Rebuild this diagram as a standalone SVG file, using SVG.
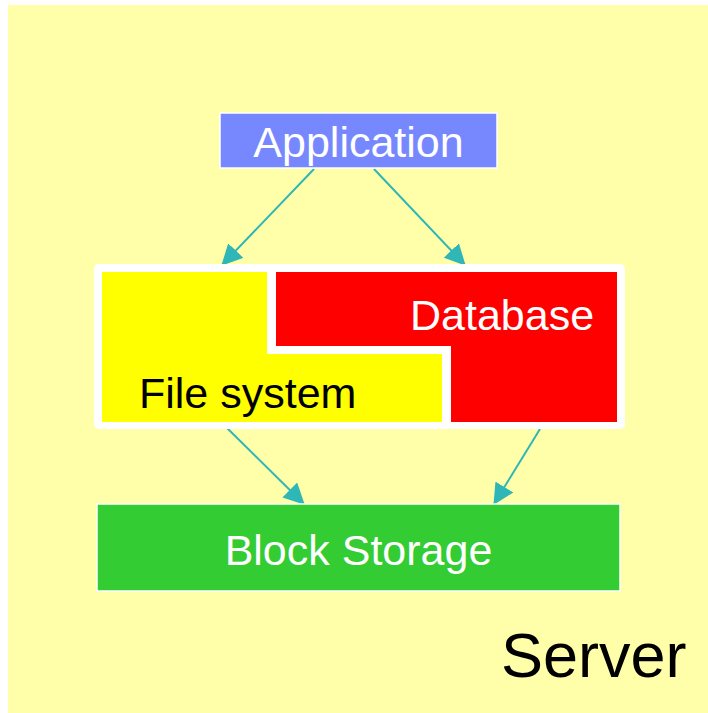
<svg xmlns="http://www.w3.org/2000/svg" width="708" height="713" viewBox="0 0 708 713">
<style>
text{font-family:"Liberation Sans",Arial,sans-serif;font-size:43px}
.box{stroke:#ffffff;stroke-width:1.5}
.conn{stroke:#2fb6b6;stroke-width:2;fill:none}
</style>
<defs>
<marker id="ah" markerUnits="userSpaceOnUse" viewBox="0 0 20 20" markerWidth="21" markerHeight="21" refX="19" refY="10" orient="auto">
<path d="M0,0 L20,10 L0,20 z" fill="#2fb6b6"/>
</marker>
</defs>
<rect x="0" y="0" width="708" height="713" fill="#ffffff"/>
<g id="server">
<rect x="8" y="5" width="700" height="708" fill="#ffffaa"/>
<text x="501" y="677" style="font-size:63px" fill="#000000">Server</text>
</g>
<g id="connectors">
<line class="conn" x1="314" y1="169" x2="222" y2="265" marker-end="url(#ah)"/>
<line class="conn" x1="374" y1="169" x2="465" y2="265" marker-end="url(#ah)"/>
<line class="conn" x1="227" y1="428" x2="304" y2="504" marker-end="url(#ah)"/>
<line class="conn" x1="540" y1="429" x2="494" y2="504" marker-end="url(#ah)"/>
</g>
<g id="application">
<rect class="box" x="220" y="113" width="277" height="55" fill="#7788ff"/>
<text x="358.5" y="157" text-anchor="middle" fill="#ffffff">Application</text>
</g>
<g id="stack">
<rect x="94" y="264" width="531" height="165" rx="5" fill="#ffffff"/>
</g>
<g id="filesystem">
<polygon points="102,272 267,272 267,354 442,354 442,422 102,422" fill="#ffff00"/>
<text x="139" y="408" fill="#000000">File system</text>
</g>
<g id="database">
<polygon points="276,272 617,272 617,422 451,422 451,346 276,346" fill="#ff0000"/>
<text x="410" y="330" fill="#ffffff">Database</text>
</g>
<g id="blockstorage">
<rect class="box" x="97" y="504" width="523" height="87" fill="#33cc33"/>
<text x="358.5" y="565" text-anchor="middle" fill="#ffffff">Block Storage</text>
</g>
</svg>
